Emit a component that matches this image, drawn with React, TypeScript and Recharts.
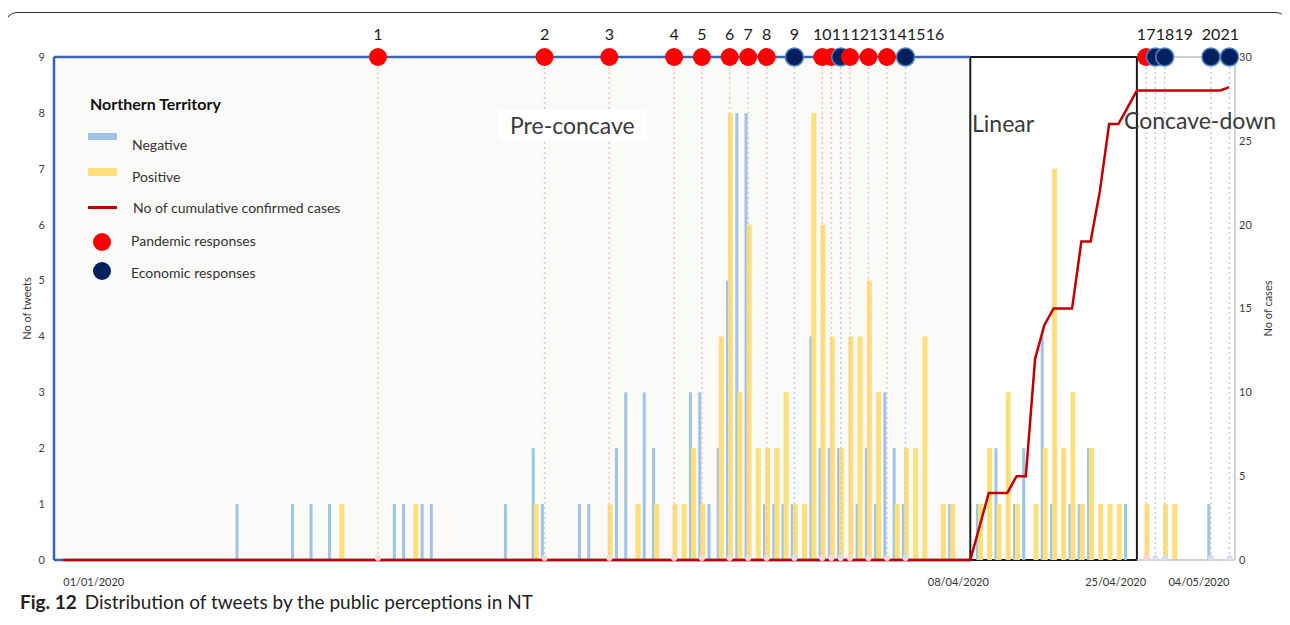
import React from "react";
import {
  Bar,
  ComposedChart,
  Line,
  ReferenceArea,
  ReferenceLine,
  Scatter,
  XAxis,
  YAxis,
} from "recharts";

// day index: 1 = 01/01/2020 ... 127 = 06/05/2020
const dayCount = 127;

// [day, tweets]
const negativeTweets: [number, number][] = [
  [20, 1], [26, 1], [28, 1], [30, 1], [37, 1], [38, 1], [40, 1], [41, 1], [49, 1],
  [52, 2], [53, 1], [57, 1], [58, 1], [61, 2], [62, 3], [64, 3], [65, 2], [69, 3],
  [70, 3], [71, 1], [72, 2], [73, 5], [74, 8], [75, 8], [77, 1], [78, 1], [79, 1],
  [80, 1], [82, 4], [83, 2], [84, 2], [85, 2], [87, 1], [88, 2], [89, 1], [90, 3],
  [91, 2], [92, 1], [97, 1], [100, 1], [102, 2], [104, 1], [105, 2], [107, 4],
  [108, 1], [110, 1], [111, 1], [112, 2], [116, 1], [125, 1],
];

const positiveTweets: [number, number][] = [
  [31, 1], [39, 1], [52, 1], [60, 1], [63, 1], [65, 1], [67, 1], [68, 1], [69, 2],
  [70, 1], [72, 4], [73, 8], [74, 3], [75, 6], [76, 2], [77, 2], [78, 2], [79, 3],
  [80, 1], [81, 1], [82, 8], [83, 6], [84, 4], [85, 2], [86, 4], [87, 4], [88, 5],
  [89, 3], [91, 1], [92, 2], [93, 2], [94, 4], [96, 1], [97, 1], [100, 1], [101, 2],
  [102, 1], [103, 3], [104, 1], [106, 1], [107, 2], [108, 7], [109, 2], [110, 3],
  [111, 1], [112, 2], [113, 1], [114, 1], [115, 1], [118, 1], [120, 1], [121, 1],
];

// cumulative confirmed cases from day 99 (08/04) to day 127; zero before
const casesStartDay = 99;
const cumulativeCases = [
  0, 2, 4, 4, 4, 5, 5, 12, 14, 15, 15, 15, 19, 19, 22, 26, 26, 27,
  28, 28, 28, 28, 28, 28, 28, 28, 28, 28, 28.2,
];
const linearEndDay = 117;

// responses: P = pandemic, E = economic
const eventDays = [35, 53, 60, 67, 70, 73, 75, 77, 80, 83, 84, 85, 86, 88, 90, 92, 118, 119, 120, 125, 127];
const eventKinds = ["P", "P", "P", "P", "P", "P", "P", "P", "E", "P", "P", "E", "P", "P", "P", "E", "P", "E", "E", "E", "E"];

const dateTicks = [1, 99, 116, 125];
const tweetTicks = [0, 1, 2, 3, 4, 5, 6, 7, 8, 9];
const caseTicks = [0, 5, 10, 15, 20, 25, 30];

const W = 1290;
const H = 625;
const PLOT_LEFT = 54;
const PLOT_RIGHT = 1235;
const PLOT_TOP = 57;
const PLOT_BOTTOM = 560;
const Y_AXIS_W = 30;
const X_AXIS_H = 30;
const X_MAX = 127.6;
const PLOT_H = PLOT_BOTTOM - PLOT_TOP;
const BAND_PX = (PLOT_RIGHT - PLOT_LEFT) / X_MAX;

const FONT = "Lato, 'Open Sans', sans-serif";
const BLUE_FRAME = "#3b63b3";

const negMap = new Map(negativeTweets);
const posMap = new Map(positiveTweets);

const data = Array.from({ length: dayCount }, (_, i) => {
  const k = i + 1;
  return {
    k,
    neg: negMap.get(k) ?? 0,
    pos: posMap.get(k) ?? 0,
    cases: k >= casesStartDay ? cumulativeCases[k - casesStartDay] : 0,
  };
});

// spread the numbers above the dots so they don't overlap
const LABEL_SIZE = 16;
const DIGIT_PX = 9.4;
const events = (() => {
  let prevRight = -Infinity;
  return eventDays.map((k, i) => {
    const label = String(i + 1);
    const half = (label.length * DIGIT_PX) / 2 / BAND_PX;
    const labelK = Math.max(k, prevRight + half);
    prevRight = labelK + half;
    return { k, ev: 9, kind: eventKinds[i], label, labelK };
  });
})();

function dateLabel(k: number) {
  const d = new Date(2020, 0, k);
  const dd = String(d.getDate()).padStart(2, "0");
  const mm = String(d.getMonth() + 1).padStart(2, "0");
  return `${dd}/${mm}/${d.getFullYear()}`;
}

const DateTick = (props: any) => {
  const { x, y, payload } = props;
  const first = payload.value === dateTicks[0];
  return (
    <text
      x={first ? x : x - 12}
      y={y + 18}
      textAnchor={first ? "start" : "middle"}
      fontSize={11}
      fontFamily={FONT}
      fill="#333"
    >
      {dateLabel(payload.value)}
    </text>
  );
};

const EventMarker = (props: any) => {
  const { cx, cy, payload } = props;
  if (cx == null || cy == null) return <g />;
  const red = payload.kind === "P";
  const labelX = cx + (payload.labelK - payload.k) * BAND_PX;
  return (
    <g>
      <line
        x1={cx}
        y1={cy}
        x2={cx}
        y2={cy + PLOT_H}
        stroke={red ? "#f5c0c0" : "#c2ccdf"}
        strokeWidth={1.5}
        strokeDasharray="2 3"
      />
      <circle cx={cx} cy={cy + PLOT_H - 2} r={3} fill={red ? "#fbd8d8" : "#d9dfea"} />
      <circle
        cx={cx}
        cy={cy}
        r={9}
        fill={red ? "#ff0000" : "#002060"}
        stroke={red ? "none" : "#4f81bd"}
        strokeWidth={red ? 0 : 1.5}
      />
      <text
        x={labelX}
        y={cy - 17}
        textAnchor="middle"
        fontSize={LABEL_SIZE}
        fontFamily={FONT}
        fill="#1a1a1a"
      >
        {payload.label}
      </text>
    </g>
  );
};

const legendRow: React.CSSProperties = {
  position: "absolute",
  left: 0,
  display: "flex",
  alignItems: "center",
};

function LegendBox() {
  const text: React.CSSProperties = { fontSize: 14, color: "#333", position: "absolute", left: 44, whiteSpace: "nowrap" };
  return (
    <div style={{ position: "absolute", left: 88, top: 94, width: 300, height: 200, fontFamily: FONT }}>
      <div style={{ position: "absolute", left: 2, top: 0, fontSize: 16, fontWeight: 700, color: "#111" }}>
        Northern Territory
      </div>
      <div style={{ ...legendRow, top: 39 }}>
        <div style={{ width: 29, height: 7, background: "#9dc3e6" }} />
      </div>
      <div style={{ ...text, top: 42 }}>Negative</div>
      <div style={{ ...legendRow, top: 74 }}>
        <div style={{ width: 29, height: 8, background: "#ffdf7a" }} />
      </div>
      <div style={{ ...text, top: 74 }}>Positive</div>
      <div style={{ ...legendRow, top: 112 }}>
        <div style={{ width: 29, height: 3, background: "#c00000" }} />
      </div>
      <div style={{ ...text, top: 105, left: 45 }}>No of cumulative confirmed cases</div>
      <div style={{ ...legendRow, top: 139, left: 5 }}>
        <div style={{ width: 18, height: 18, borderRadius: 9, background: "#ff0000" }} />
      </div>
      <div style={{ ...text, top: 138, left: 43 }}>Pandemic responses</div>
      <div style={{ ...legendRow, top: 168, left: 5 }}>
        <div style={{ width: 18, height: 18, borderRadius: 9, background: "#002060" }} />
      </div>
      <div style={{ ...text, top: 170, left: 43 }}>Economic responses</div>
    </div>
  );
}

const phaseText: React.CSSProperties = {
  position: "absolute",
  fontFamily: FONT,
  fontSize: 23,
  color: "#3a3a3a",
  lineHeight: "26px",
  whiteSpace: "nowrap",
};

export default function App() {
  return (
    <div style={{ position: "relative", width: W, height: H, margin: -8, background: "#fff", overflow: "hidden" }}>
      <div
        style={{
          position: "absolute",
          left: 5,
          top: 12,
          width: 1281,
          height: 640,
          border: "1.5px solid #333",
          borderRadius: 12,
        }}
      />
      <div style={{ position: "absolute", left: 0, top: 0 }}>
        <ComposedChart
          width={W}
          height={H}
          data={data}
          barGap={-1}
          margin={{
            top: PLOT_TOP,
            left: PLOT_LEFT - Y_AXIS_W,
            right: W - PLOT_RIGHT - Y_AXIS_W,
            bottom: H - PLOT_BOTTOM - X_AXIS_H,
          }}
        >
          <XAxis
            dataKey="k"
            type="number"
            domain={[0, X_MAX]}
            ticks={dateTicks}
            tick={<DateTick />}
            axisLine={false}
            tickLine={false}
            height={X_AXIS_H}
          />
          <YAxis
            yAxisId="left"
            domain={[0, 9]}
            ticks={tweetTicks}
            width={Y_AXIS_W}
            axisLine={{ stroke: BLUE_FRAME, strokeWidth: 2.5 }}
            tickLine={false}
            tickMargin={3}
            tick={{ fontSize: 11, fill: "#404040", fontFamily: FONT }}
            label={{
              value: "No of tweets",
              angle: -90,
              position: "insideLeft",
              offset: 3,
              style: { fontSize: 11, fill: "#333", fontFamily: FONT, textAnchor: "middle" },
            }}
          />
          <YAxis
            yAxisId="right"
            orientation="right"
            domain={[0, 30]}
            ticks={caseTicks}
            width={Y_AXIS_W}
            axisLine={{ stroke: "#c4c4c4", strokeWidth: 1.5 }}
            tickLine={false}
            tickSize={2}
            tickMargin={2}
            tick={{ fontSize: 11, fill: "#404040", fontFamily: FONT }}
            label={{
              value: "No of cases",
              angle: -90,
              position: "insideRight",
              offset: -3,
              style: { fontSize: 11, fill: "#333", fontFamily: FONT, textAnchor: "middle" },
            }}
          />
          <ReferenceArea
            yAxisId="left"
            x1={0}
            x2={casesStartDay}
            y1={0}
            y2={9}
            fill="#fafaf9"
            fillOpacity={1}
            stroke="none"
          />
          <Bar yAxisId="left" dataKey="neg" fill="#9dc3e6" barSize={3} isAnimationActive={false} />
          <Bar yAxisId="left" dataKey="pos" fill="#ffdf7a" barSize={5} isAnimationActive={false} />
          <ReferenceLine
            yAxisId="left"
            segment={[{ x: 0, y: 9 }, { x: casesStartDay, y: 9 }]}
            stroke={BLUE_FRAME}
            strokeWidth={2.5}
          />
          <ReferenceLine
            yAxisId="left"
            segment={[{ x: 0, y: 0 }, { x: casesStartDay, y: 0 }]}
            stroke={BLUE_FRAME}
            strokeWidth={2.5}
          />
          <ReferenceLine
            yAxisId="left"
            segment={[{ x: linearEndDay, y: 9 }, { x: X_MAX, y: 9 }]}
            stroke="#c4c4c4"
            strokeWidth={1.5}
          />
          <ReferenceLine
            yAxisId="left"
            segment={[{ x: linearEndDay, y: 0 }, { x: X_MAX, y: 0 }]}
            stroke="#c4c4c4"
            strokeWidth={1.5}
          />
          <ReferenceArea
            yAxisId="left"
            x1={casesStartDay}
            x2={linearEndDay}
            y1={0}
            y2={9}
            fill="none"
            stroke="#1a1a1a"
            strokeWidth={2}
          />
          <Line
            yAxisId="right"
            dataKey="cases"
            type="linear"
            stroke="#c00000"
            strokeWidth={2.5}
            dot={false}
            isAnimationActive={false}
          />
          <Scatter
            yAxisId="left"
            data={events}
            dataKey="ev"
            shape={<EventMarker />}
            isAnimationActive={false}
          />
        </ComposedChart>
      </div>
      <LegendBox />
      <div style={{ ...phaseText, left: 498, top: 110, background: "#fff", padding: "2px 12px" }}>Pre-concave</div>
      <div style={{ ...phaseText, left: 972, top: 110 }}>Linear</div>
      <div style={{ ...phaseText, left: 1124, top: 107 }}>Concave-down</div>
      <div
        style={{
          position: "absolute",
          left: 20,
          top: 590,
          fontFamily: FONT,
          fontSize: 19,
          color: "#222",
          whiteSpace: "nowrap",
        }}
      >
        <b>Fig. 12</b>
        <span style={{ marginLeft: 8 }}>Distribution of tweets by the public perceptions in NT</span>
      </div>
    </div>
  );
}
